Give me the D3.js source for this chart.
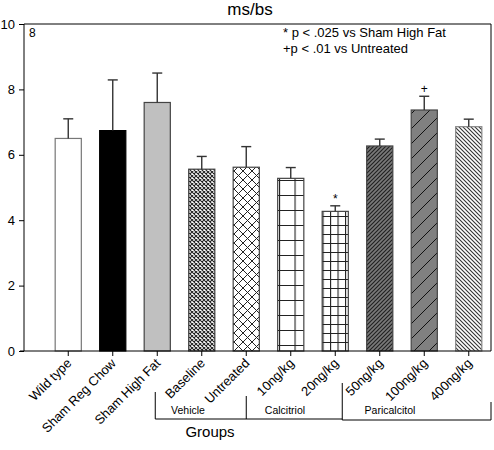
<!DOCTYPE html>
<html><head><meta charset="utf-8">
<script src="https://cdn.jsdelivr.net/npm/d3@7/dist/d3.min.js"></script>
<style>body{margin:0;background:#fff}svg{display:block}text{font-family:Arial,"Liberation Sans",sans-serif}</style>
</head><body><svg id="c" width="494" height="450"></svg>
<script>
const categories = ["Wild type","Sham Reg Chow","Sham High Fat","Baseline","Untreated","10ng/kg","20ng/kg","50ng/kg","100ng/kg","400ng/kg"];
const means = [6.5, 6.74, 7.6, 5.56, 5.62, 5.28, 4.27, 6.27, 7.37, 6.86];
const errors = [0.6, 1.55, 0.9, 0.39, 0.63, 0.33, 0.17, 0.21, 0.42, 0.23];
const marks = ["", "", "", "", "", "", "*", "", "+", ""];
const yTicks = [0, 2, 4, 6, 8, 10];
const groups = [{name:"Vehicle", from:3, to:4}, {name:"Calcitriol", from:5, to:6}, {name:"Paricalcitol", from:7, to:9}];
const legendLines = ["* p < .025 vs Sham High Fat", "+p < .01 vs Untreated"];

const svg = d3.select("#c");
const L = 24, R = 491, T = 24, B = 351;
const x = d3.scaleBand().domain(categories).range([46, 491]).paddingInner(0.39).paddingOuter(0.195);
const y = d3.scaleLinear().domain([0, 10]).range([B, T]);

// patterns
const defs = svg.append("defs");
function pat(id, w, h, bg, draw) {
  const p = defs.append("pattern").attr("id", id).attr("patternUnits", "userSpaceOnUse").attr("width", w).attr("height", h);
  p.append("rect").attr("width", w).attr("height", h).attr("fill", bg);
  draw(p);
}
pat("p3", 4, 4, "#fff", p => p.append("path").attr("d", "M0,0L4,4M4,0L0,4").attr("stroke", "#222").attr("stroke-width", 1.1));
pat("p4", 9, 9, "#fff", p => p.append("path").attr("d", "M0,0L9,9M9,0L0,9").attr("stroke", "#222").attr("stroke-width", 1));
pat("p5", 15.5, 15, "#fff", p => p.append("path").attr("d", "M0,0.5H15.5M0.5,0V15").attr("stroke", "#222").attr("stroke-width", 1.2));
pat("p6", 7.5, 9, "#fff", p => p.append("path").attr("d", "M0,0.5H7.5M0.5,0V9").attr("stroke", "#222").attr("stroke-width", 1.2));
pat("p7", 4, 4, "#7a7a7a", p => p.append("path").attr("d", "M-1,5L5,-1M-1,1L1,-1M3,5L5,3").attr("stroke", "#222").attr("stroke-width", 1.2));
pat("p8", 15, 15, "#808080", p => p.append("path").attr("d", "M-1,16L16,-1M-1,1L1,-1M14,16L16,14").attr("stroke", "#111").attr("stroke-width", 1));
pat("p9", 4, 4, "#fff", p => p.append("path").attr("d", "M-1,-1L5,5M3,-1L5,1M-1,3L1,5").attr("stroke", "#333").attr("stroke-width", 1.1));

const fills = ["#fff", "#000", "#c0c0c0", "url(#p3)", "url(#p4)", "url(#p5)", "url(#p6)", "url(#p7)", "url(#p8)", "url(#p9)"];
const strokes = ["#777", "#000", "#444", "#444", "#444", "#444", "#444", "#444", "#444", "#888"];

// title
svg.append("text").attr("x", 250).attr("y", 15).attr("text-anchor", "middle").attr("font-size", 17).text("ms/bs");

// frame
svg.append("path").attr("d", `M${L},${T}H${R}V${B}`).attr("fill", "none").attr("stroke", "#000").attr("stroke-width", 1);

// bars
const data = categories.map((c, i) => ({c, m: means[i], e: errors[i], mark: marks[i], i}));
const bw = x.bandwidth();
svg.append("g").selectAll("rect").data(data).join("rect")
  .attr("x", d => x(d.c) + 0.5).attr("y", d => y(d.m)).attr("width", bw - 1).attr("height", d => B - y(d.m))
  .attr("fill", d => fills[d.i]).attr("stroke", d => strokes[d.i]).attr("stroke-width", 1.2);

// error bars
const eg = svg.append("g").attr("stroke", "#333").attr("stroke-width", 1.4);
data.forEach(d => {
  const cx = x(d.c) + bw / 2;
  eg.append("line").attr("x1", cx).attr("x2", cx).attr("y1", y(d.m)).attr("y2", y(d.m + d.e));
  eg.append("line").attr("x1", cx - 5).attr("x2", cx + 5).attr("y1", y(d.m + d.e)).attr("y2", y(d.m + d.e));
  if (d.mark) svg.append("text").attr("x", cx).attr("y", y(d.m + d.e) - 3).attr("text-anchor", "middle").attr("font-size", 12).text(d.mark);
});

// y axis
const ya = svg.append("g").attr("transform", `translate(${L},0)`).call(d3.axisLeft(y).tickValues(yTicks).tickSize(5).tickFormat(d3.format("d")));
ya.select(".domain").attr("d", `M0,${B}V${T}`);
ya.selectAll("text").attr("font-size", 13).attr("font-family", "Arial").attr("fill", "#000").attr("dx", "-1");

// x axis
const xa = svg.append("g").attr("transform", `translate(0,${B})`).call(d3.axisBottom(x).tickSize(5).tickSizeOuter(0));
xa.select(".domain").attr("d", `M20,0H${R}`);
xa.selectAll("text").attr("font-size", 13).attr("font-family", "Arial").attr("fill", "#000")
  .attr("text-anchor", "end").attr("x", 0).attr("y", 0).attr("dy", 0).attr("transform", "translate(4,13) rotate(-45)");

// group brackets
const bg = svg.append("g").attr("stroke", "#000").attr("stroke-width", 1).attr("fill", "none");
const gx = (i) => x(categories[i]) + bw / 2;
const leftX = [gx(2) - 2, gx(4), gx(6) + 7];
const topY = [392, 396, 383];
const rightX = R;
bg.append("path").attr("d", `M${leftX[0]},${topY[0]}V419H${leftX[2]}`);
bg.append("path").attr("d", `M${leftX[1]},${topY[1]}V419`);
bg.append("path").attr("d", `M${leftX[2]},${topY[2]}V420H${rightX}V402`);
const cxs = [188, 285, 390];
groups.forEach((g, k) => {
  svg.append("text").attr("x", cxs[k]).attr("y", 414).attr("text-anchor", "middle").attr("font-size", 10.5).text(g.name);
});

// axis title
svg.append("text").attr("x", 210).attr("y", 437).attr("text-anchor", "middle").attr("font-size", 15).text("Groups");

// panel label and legend
svg.append("text").attr("x", 29).attr("y", 37).attr("font-size", 12).text("8");
legendLines.forEach((t, i) => svg.append("text").attr("x", 283).attr("y", 37 + i * 16).attr("font-size", 13).text(t));
</script></body></html>
